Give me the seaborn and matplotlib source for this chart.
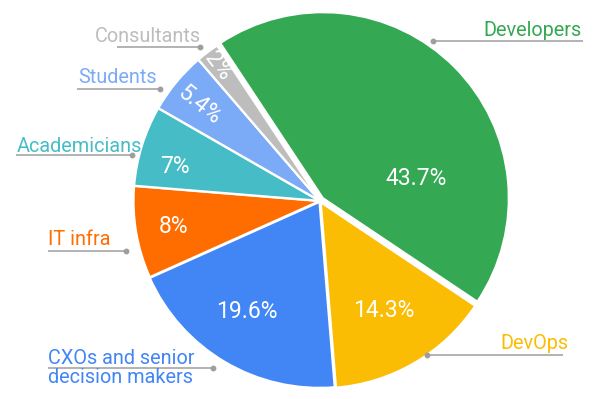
import numpy as np
import matplotlib
matplotlib.use("Agg")
import matplotlib.pyplot as plt
import seaborn as sns

# ---- data ----
categories = ["Developers", "DevOps", "CXOs and senior\ndecision makers", "IT infra",
              "Academicians", "Students", "Consultants"]
values = [43.7, 14.3, 19.6, 8, 7, 5.4, 2]
pct_labels = ["43.7%", "14.3%", "19.6%", "8%", "7%", "5.4%", "2%"]
colors = ["#34A853", "#FBBC04", "#4285F4", "#FF6D01", "#46BDC6", "#7BAAF7", "#BDBDBD"]

sns.set_theme(style="white")
plt.rcParams["font.family"] = ["Roboto", "DejaVu Sans"]

W, H = 595, 399
fig = plt.figure(figsize=(W / 100, H / 100), dpi=100)
ax = fig.add_axes([0, 0, 1, 1])

cx, cy, R = 320, H - 201, 186
explode = [4, 1.5, 1, 0.5, 0.5, 0.5, 0.5]
wedges, _ = ax.pie(values, colors=colors, startangle=123.5, counterclock=False,
                   center=(cx, cy), radius=R, explode=explode,
                   wedgeprops=dict(edgecolor="white", linewidth=1.6), frame=True)
ax.set_xlim(0, W)
ax.set_ylim(0, H)
ax.axis("off")

# percent labels (radius fraction, angle shift, rotate?)
pct_r = [0.53, 0.68, 0.71, 0.80, 0.80, 0.83, 0.91]
pct_shift = [-31.7, 0, -3, 0, 4, 1, 0]
pct_rot = [False, False, False, False, False, True, True]
for w, lab, r, sh, rot in zip(wedges, pct_labels, pct_r, pct_shift, pct_rot):
    mid = 0.5 * (w.theta1 + w.theta2) + sh
    a = np.deg2rad(mid)
    x = cx + r * R * np.cos(a)
    y = cy + r * R * np.sin(a)
    ax.text(x, y, lab, color="white", fontsize=16.5, ha="center", va="center",
            rotation=(mid - 180) if rot else 0, rotation_mode="anchor", zorder=5)

# outside labels (baseline = last line)
lab_tx = [582, 568, 48, 48, 17, 78, 95]
lab_ty = [36, 349, 383, 245, 152, 83, 42]
lab_ha = ["right", "right", "left", "left", "left", "left", "left"]
line_x0 = [583, 563, 48, 48, 16, 77, 117]
line_x1 = [433, 427, 213, 126, 132, 160, 200]
line_y = [41, 355, 368, 251, 155, 89, 47]
for i, cat in enumerate(categories):
    ax.plot([line_x0[i], line_x1[i]], [H - line_y[i]] * 2, color="#9E9E9E", lw=1.1,
            solid_capstyle="butt", zorder=4)
    ax.plot([line_x1[i]], [H - line_y[i]], "o", color="#9E9E9E", ms=3.2, zorder=4)
    ax.text(lab_tx[i], H - lab_ty[i], cat, color=colors[i], fontsize=14.3,
            ha=lab_ha[i], va="baseline", linespacing=1.0, zorder=6)

fig.savefig("out.png", dpi=100)
